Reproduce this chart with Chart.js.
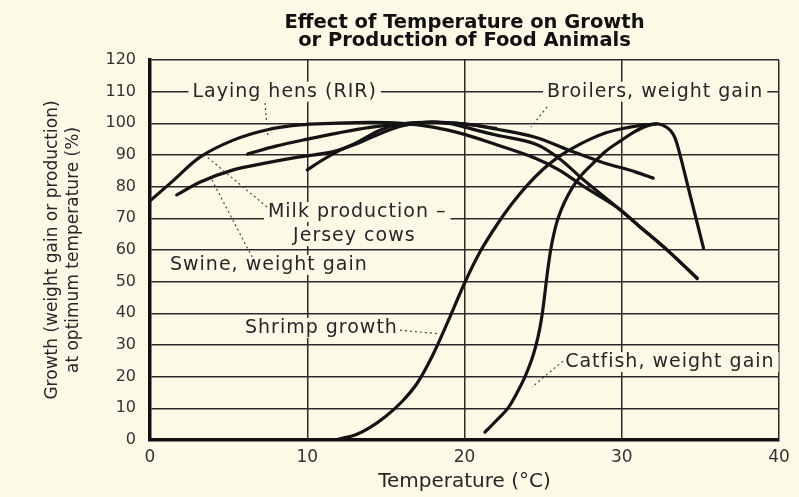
<!DOCTYPE html>
<html>
<head>
<meta charset="utf-8">
<title>Effect of Temperature on Growth</title>
<script src="https://cdn.jsdelivr.net/npm/chart.js@4.4.1/dist/chart.umd.min.js"></script>
<style>
  body { margin: 0; background: #fdf9e7; }
  canvas { display: block; }
</style>
</head>
<body>
<canvas id="growthChart" width="799" height="497"></canvas>
<script>
'use strict';

// Axis ticks
var tempTicks = [0, 10, 20, 30, 40];
var growthTicks = [0, 10, 20, 30, 40, 50, 60, 70, 80, 90, 100, 110, 120];

// Milk production - Jersey cows
var milkTemp = [0, 1.5, 3.2, 5.3, 7.4, 9.5, 11.6, 14, 16, 18, 20, 22, 24.5, 26, 27.6, 29.7, 31, 33, 34.8];
var milkGrowth = [75.5, 82, 89.4, 94.7, 97.9, 99.5, 100, 100.3, 100, 98.8, 96.5, 93.3, 89, 85.3, 80, 73.5, 68, 59.5, 51];

// Swine, weight gain
var swineTemp = [1.7, 3.2, 5.3, 7.4, 9.5, 11.6, 13, 14.5, 16, 17.5, 19, 20, 22, 24.5, 26, 27.6, 29.7, 31, 33, 34.8];
var swineGrowth = [77.4, 81.5, 85.3, 87.5, 89.4, 91, 93.3, 96.5, 99.2, 100.3, 100, 98.8, 96.3, 93.5, 89, 82, 73.5, 68, 59.5, 51];

// Laying hens (RIR)
var hensTemp = [6.2, 8, 10, 12, 14, 16, 18, 20, 22];
var hensGrowth = [90.3, 92.8, 95, 97, 98.7, 99.8, 100.3, 99.8, 98.4];

// Broilers, weight gain
var broilerTemp = [10, 11, 12, 13.1, 14.7, 16, 18, 20, 22, 24.5, 26.6, 28.7, 30.9, 32];
var broilerGrowth = [85.3, 88.5, 91.3, 93.8, 98, 99.8, 100.4, 99.8, 98.2, 95.6, 91.6, 87.8, 84.6, 82.7];

// Shrimp growth
var shrimpTemp = [12, 13, 14, 15, 16, 17, 18, 19, 20, 21, 22, 23, 24, 25, 26, 27, 28, 29, 30, 31, 32.2];
var shrimpGrowth = [0.3, 1.5, 4, 7.5, 12, 18, 27, 38, 49.5, 59.5, 67.5, 74.5, 80.5, 85.5, 89.5, 92.5, 95, 97, 98.3, 99.2, 99.8];

// Catfish, weight gain
var catfishTemp = [21.3, 22, 22.75, 23.35, 23.85, 24.25, 24.55, 24.78, 24.95, 25.08, 25.2, 25.33, 25.48, 25.68, 25.95, 26.35, 26.9, 27.5, 28.2, 29, 30, 30.8, 31.6, 32.3, 32.9, 33.3, 33.6, 34.4, 35.2];
var catfishGrowth = [2.5, 6, 10, 15, 20, 25, 30, 35, 40, 45, 50, 55, 60, 65, 70, 75, 80, 84, 87.5, 91.3, 94.7, 97.3, 99.2, 99.8, 98.6, 96.3, 92, 76.3, 60.6];

// Curve labels: text, left x, middle y (data units)
var labelText = ['Laying hens (RIR)', 'Broilers, weight gain', 'Milk production \u2013', 'Jersey cows', 'Swine, weight gain', 'Shrimp growth', 'Catfish, weight gain'];
var labelTemp = [2.7, 25.25, 7.5, 9.1, 1.27, 6.04, 26.4];
var labelGrowth = [110, 110, 72, 64.4, 55.3, 35.4, 24.6];

// Leader lines from the labels to the curves: [x1, y1, x2, y2]
var leaders = [
  [7.31, 106.4, 7.5, 95.7],
  [25.25, 105.2, 24.23, 98.8],
  [7.44, 73.6, 3.62, 89.4],
  [3.94, 82.1, 6.49, 57.8],
  [15.9, 34.7, 18.44, 33.5],
  [26.26, 24.9, 24.29, 16.7]
];

function toPoints(xs, ys) {
  var pts = [];
  for (var i = 0; i < xs.length; i++) {
    pts.push({x: xs[i], y: ys[i]});
  }
  return pts;
}

function curve(name, xs, ys) {
  return {
    label: name,
    data: toPoints(xs, ys),
    showLine: true,
    borderColor: '#141414',
    borderWidth: 3.2,
    borderCapStyle: 'round',
    borderJoinStyle: 'round',
    tension: 0.35,
    pointRadius: 0,
    fill: false
  };
}

var paperBackground = {
  id: 'paperBackground',
  beforeDraw: function(chart) {
    var ctx = chart.ctx;
    ctx.save();
    ctx.fillStyle = '#fdf9e7';
    ctx.fillRect(0, 0, chart.width, chart.height);
    ctx.restore();
  }
};

// Title and curve labels
var chartText = {
  id: 'chartText',
  afterDatasetsDraw: function(chart) {
    var ctx = chart.ctx;
    var xs = chart.scales.x;
    var ys = chart.scales.y;
    var area = chart.chartArea;
    var mid = (area.left + area.right) / 2;

    ctx.save();
    ctx.fillStyle = '#111';
    ctx.font = 'bold 19.5px "DejaVu Sans"';
    ctx.textAlign = 'center';
    ctx.textBaseline = 'middle';
    ctx.fillText('Effect of Temperature on Growth', mid, 23);
    ctx.fillText('or Production of Food Animals', mid, 41);
    ctx.restore();

    ctx.save();
    ctx.font = '19px "DejaVu Sans"';
    ctx.letterSpacing = '1px';
    ctx.textAlign = 'left';
    ctx.textBaseline = 'middle';
    for (var i = 0; i < labelText.length; i++) {
      var px = xs.getPixelForValue(labelTemp[i]);
      var py = ys.getPixelForValue(labelGrowth[i]);
      var w = ctx.measureText(labelText[i]).width;
      ctx.fillStyle = '#fdf9e7';
      ctx.fillRect(px - 4, py - 10, w + 8, 20);
      ctx.fillStyle = '#262626';
      ctx.fillText(labelText[i], px, py);
    }
    ctx.restore();

    ctx.save();
    ctx.strokeStyle = '#444';
    ctx.lineWidth = 1.2;
    ctx.setLineDash([2, 3]);
    leaders.forEach(function(l) {
      ctx.beginPath();
      ctx.moveTo(xs.getPixelForValue(l[0]), ys.getPixelForValue(l[1]));
      ctx.lineTo(xs.getPixelForValue(l[2]), ys.getPixelForValue(l[3]));
      ctx.stroke();
    });
    ctx.restore();
  }
};

var ctx = document.getElementById('growthChart').getContext('2d');
var growthChart = new Chart(ctx, {
  type: 'scatter',
  data: {
    datasets: [
      curve('Milk production - Jersey cows', milkTemp, milkGrowth),
      curve('Swine, weight gain', swineTemp, swineGrowth),
      curve('Laying hens (RIR)', hensTemp, hensGrowth),
      curve('Broilers, weight gain', broilerTemp, broilerGrowth),
      curve('Shrimp growth', shrimpTemp, shrimpGrowth),
      curve('Catfish, weight gain', catfishTemp, catfishGrowth)
    ]
  },
  options: {
    responsive: false,
    animation: false,
    layout: { padding: { top: 60, right: 20, left: 0, bottom: 0 } },
    plugins: {
      legend: { display: false },
      title: { display: false },
      tooltip: { enabled: false }
    },
    scales: {
      x: {
        type: 'linear',
        min: tempTicks[0],
        max: tempTicks[tempTicks.length - 1],
        afterBuildTicks: function(scale) {
          scale.ticks = tempTicks.map(function(v) { return {value: v}; });
        },
        afterFit: function(scale) { scale.height = 57; },
        ticks: {
          color: '#333',
          padding: 7,
          font: { family: '"DejaVu Sans"', size: 17 }
        },
        grid: { color: '#2a2a2a', lineWidth: 1.5, drawTicks: false },
        border: { color: '#111', width: 3.5 },
        title: {
          display: true,
          text: 'Temperature (\u00b0C)',
          color: '#262626',
          font: { family: '"DejaVu Sans"', size: 20 },
          padding: { top: 0, bottom: 3 }
        }
      },
      y: {
        min: growthTicks[0],
        max: growthTicks[growthTicks.length - 1],
        afterBuildTicks: function(scale) {
          scale.ticks = growthTicks.map(function(v) { return {value: v}; });
        },
        afterFit: function(scale) { scale.width = 150; },
        ticks: {
          color: '#333',
          padding: 14,
          font: { family: '"DejaVu Sans"', size: 16 }
        },
        grid: { color: '#2a2a2a', lineWidth: 1.5, drawTicks: false },
        border: { color: '#111', width: 3.5 },
        title: {
          display: true,
          text: ['Growth (weight gain or production)', 'at optimum temperature (%)'],
          color: '#262626',
          font: { family: '"DejaVu Sans"', size: 17, lineHeight: 1.25 },
          padding: { top: 41.5, bottom: 0 }
        }
      }
    }
  },
  plugins: [paperBackground, chartText]
});
</script>
</body>
</html>
